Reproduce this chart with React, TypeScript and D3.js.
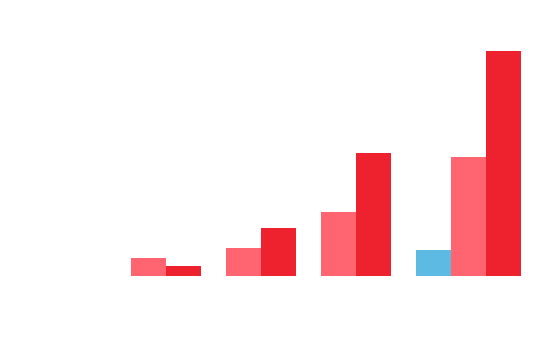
import React from 'react';
import * as d3 from 'd3';

const categories = ['Q1', 'Q2', 'Q3', 'Q4'];
const seriesNames = ['Blue', 'Pink', 'Red'];
const blueValues = [0, 0, 0, 26];
const pinkValues = [18, 28, 64, 119];
const redValues = [10, 48, 123, 225];
const seriesColors = ['#5dbbe3', '#ff6570', '#ee212e'];

const width = 555;
const height = 354;

const App = () => {
  const series = [blueValues, pinkValues, redValues];

  const x = d3.scaleBand<string>()
    .domain(categories)
    .range([131, 511])
    .paddingInner(0);

  const y = d3.scaleLinear()
    .domain([0, 250])
    .range([276, 26]);

  const barWidth = 35;

  // bars in each group are laid out left to right, empty values are skipped
  const bars: { key: string; x: number; y: number; h: number; color: string }[] = [];
  categories.forEach((cat, i) => {
    let slot = 0;
    series.forEach((vals, s) => {
      const v = vals[i];
      if (!v) return;
      bars.push({
        key: `${cat}-${seriesNames[s]}`,
        x: (x(cat) ?? 0) + slot * barWidth,
        y: y(v),
        h: y(0) - y(v),
        color: seriesColors[s],
      });
      slot++;
    });
  });

  return (
    <svg
      width={width}
      height={height}
      style={{ position: 'absolute', left: 0, top: 0, background: '#fff' }}
    >
      {bars.map(b => (
        <rect key={b.key} x={b.x} y={b.y} width={barWidth} height={b.h} fill={b.color} />
      ))}
    </svg>
  );
};

export default App;
